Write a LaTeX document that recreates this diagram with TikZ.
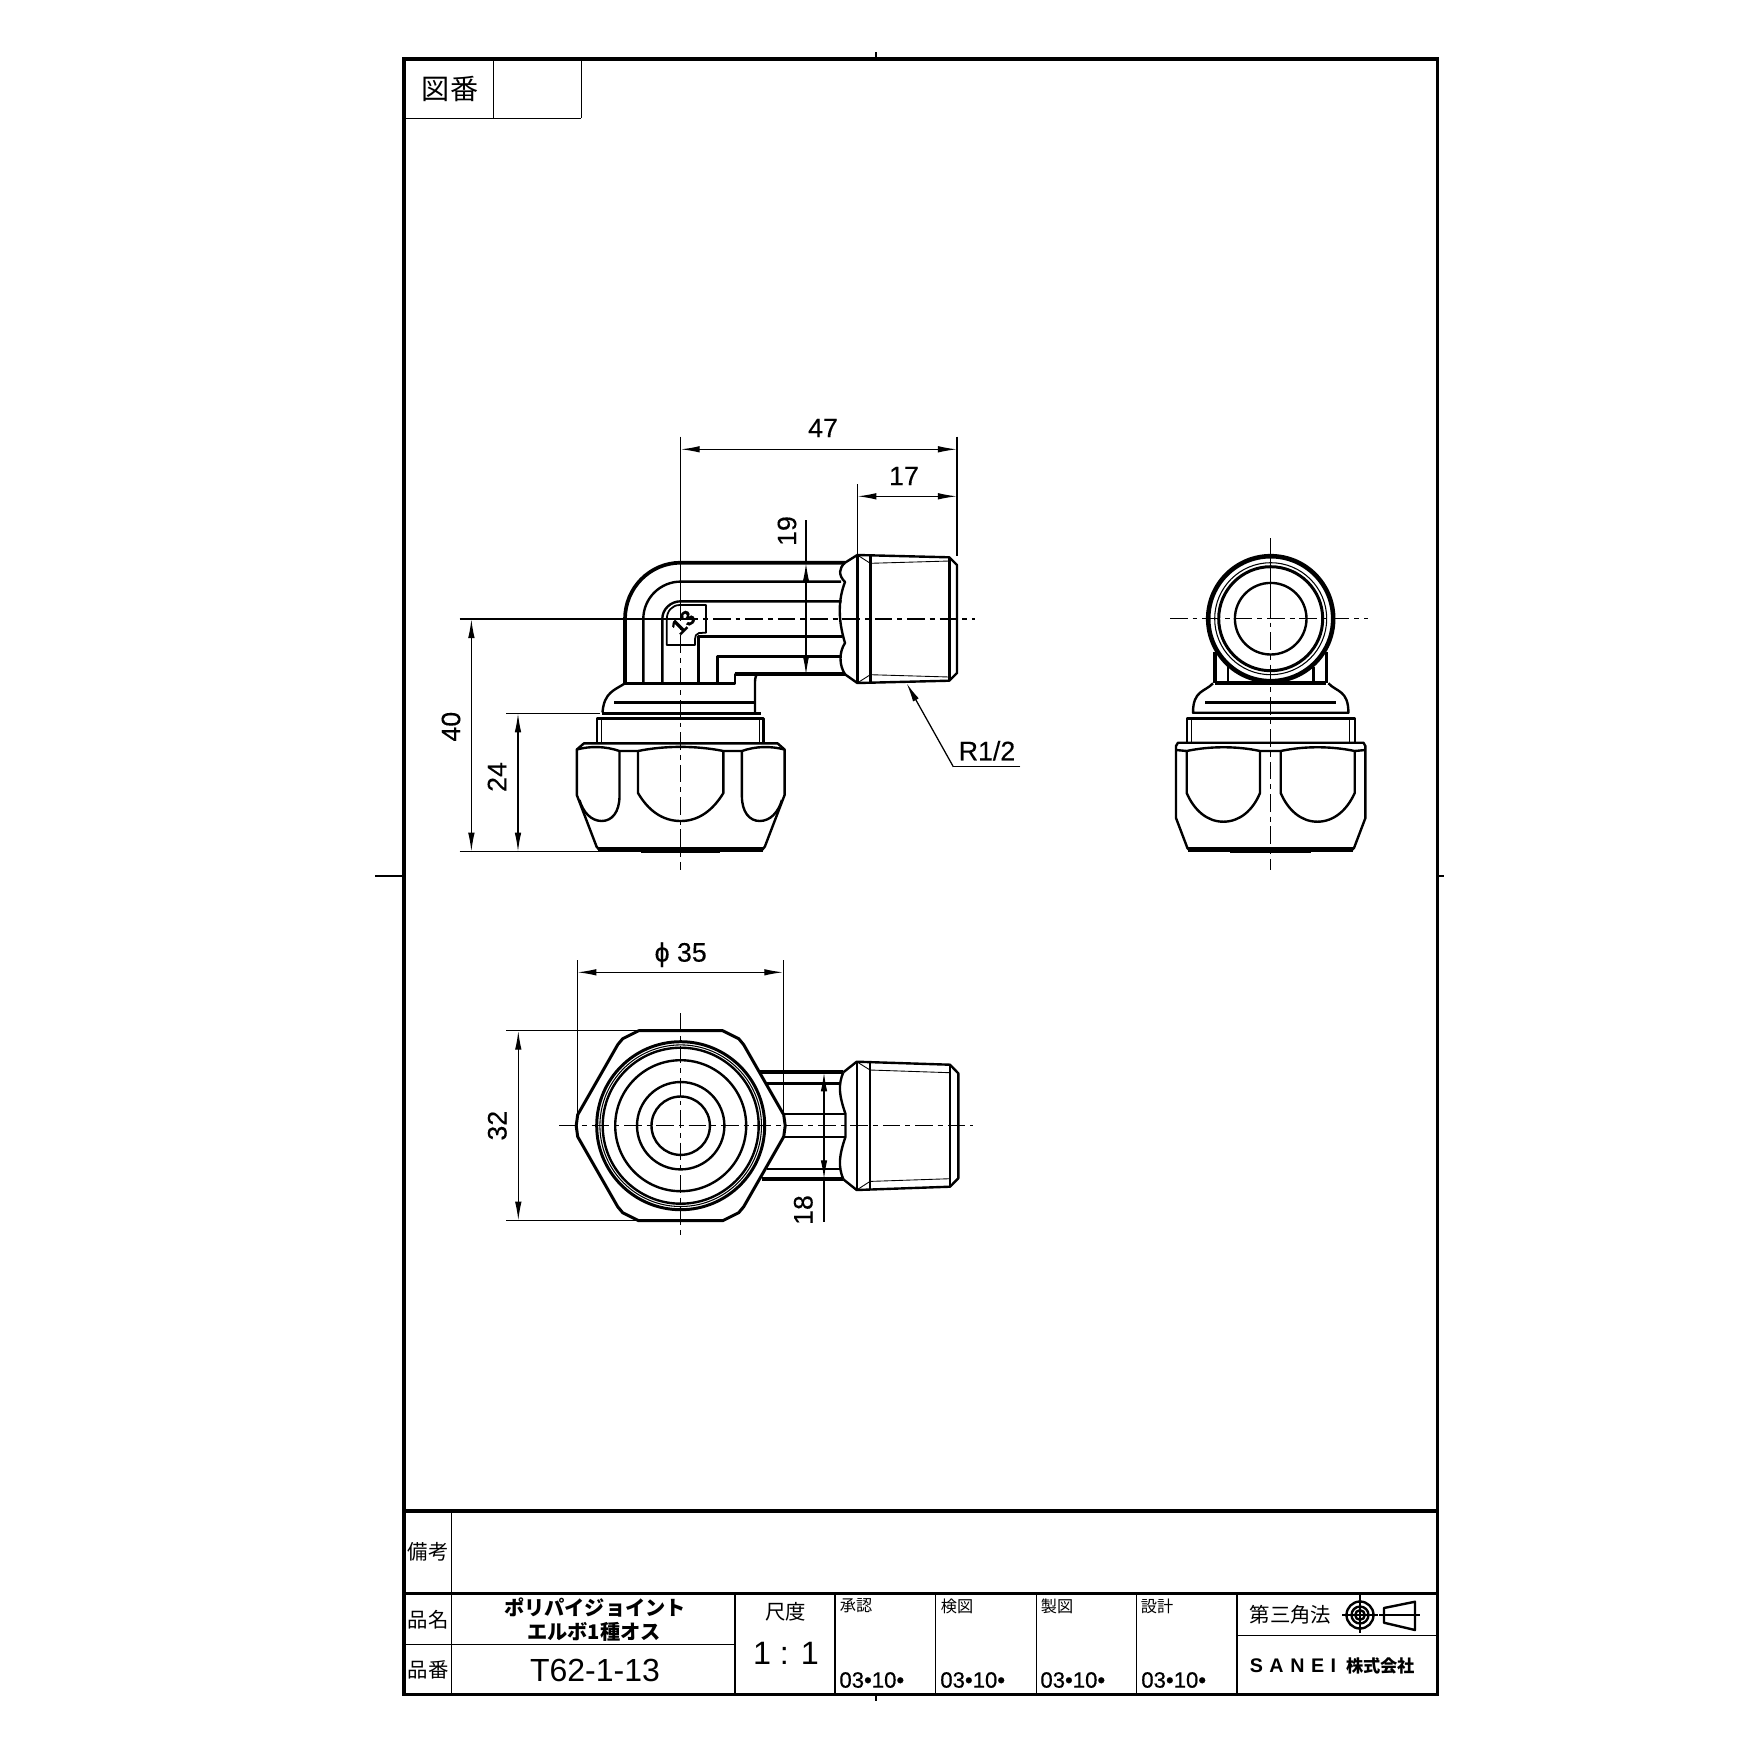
\documentclass[tikz,border=0pt]{standalone}
\usepackage{fontspec}
\setmainfont{Liberation Sans}
\newfontfamily\jpfont{Noto Sans CJK JP}
\newfontfamily\heavyfont[FakeBold=.6]{Liberation Sans}
\newfontfamily\dimfont[FakeBold=.25]{Liberation Sans}
\usetikzlibrary{arrows.meta}
\tikzset{
  framing/.style={line width=1pt,line join=miter},
  thinrule/.style={line width=.4pt},
  heavy/.style={line width=1.05pt,line join=round},
  medium/.style={line width=.68pt,line join=round},
  faint/.style={line width=.25pt},
  centre/.style={line width=.36pt,dash pattern=on 5pt off 1.4pt on 1.4pt off 1.4pt},
  dimline/.style={line width=.36pt,{Latex[length=1.9mm,width=.65mm]}-{Latex[length=1.9mm,width=.65mm]}},
  dimtip/.style={line width=.36pt,-{Latex[length=1.9mm,width=.65mm]}},
  dimtext/.style={font=\dimfont\fontsize{7.6}{9}\selectfont,inner sep=0pt},
  kanji/.style={font=\jpfont\fontsize{5.8}{7}\selectfont,inner sep=0pt},
  smallkanji/.style={font=\jpfont\fontsize{4.6}{6}\selectfont,inner sep=0pt},
  boldkanji/.style={font=\jpfont\bfseries\fontsize{5.75}{7}\selectfont,inner sep=0pt},
  datetext/.style={font=\heavyfont\fontsize{6.3}{8}\selectfont,inner sep=0pt,anchor=west}
}
\begin{document}
\begin{tikzpicture}[x=.01cm,y=-.01cm]
  \useasboundingbox (0,0) rectangle (1754,1754);
  % sheet
  \draw [framing] (404,59) rectangle (1437.5,1694.5);
  \draw [framing] (404,1511) -- (1437.5,1511);
  \draw [framing] (404,1593.5) -- (1437.5,1593.5);
  \draw [thinrule] (493.3,59) -- (493.3,118.3) (581.3,59) -- (581.3,118.3) (404,118.3) -- (581.3,118.3);
  \draw [thinrule] (876,52) -- (876,59) (876,1694.5) -- (876,1701) (375,876) -- (404,876) (1437.5,876) -- (1444,876);
  \draw [thinrule] (451.7,1511) -- (451.7,1694.5) (404,1644.3) -- (735,1644.3) (1236.8,1635.3) -- (1437.5,1635.3);
  \foreach \xa in {735,835,935.7,1036.6,1136.7,1236.8}
    \draw [thinrule] (\xa,1593.5) -- (\xa,1694.5);
  \node [kanji,font=\jpfont\fontsize{8}{9}\selectfont] (zuban) at (450,88.5) {図番};
  \node [kanji] (biko) at (428,1552) {備考};
  \node [kanji] (hinmei) at (428,1620) {品名};
  \node [kanji] (hinban) at (428,1670) {品番};
  \node [boldkanji] (name1) at (595,1607) {ポリパイジョイント};
  \node [boldkanji] (name2) at (594,1631.7) {エルボ1種オス};
  \node [inner sep=0pt,font=\fontsize{9.1}{11}\selectfont] (partno) at (595,1670) {T62-1-13};
  \node [kanji] (shakudo) at (785.8,1612) {尺度};
  \node [inner sep=0pt,font=\fontsize{9.2}{11}\selectfont] (ratio) at (786,1653) {1 : 1};
  \node [smallkanji] (shonin) at (856,1606) {承認};
  \node [smallkanji] (kenzu) at (957,1606) {検図};
  \node [smallkanji] (seizu) at (1057,1606) {製図};
  \node [smallkanji] (sekkei) at (1157,1606) {設計};
  \node [datetext] (date1) at (838.7,1680) {03•10•};
  \node [datetext] (date2) at (939.6,1680) {03•10•};
  \node [datetext] (date3) at (1039.7,1680) {03•10•};
  \node [datetext] (date4) at (1140.6,1680) {03•10•};
  \node [kanji] (third) at (1290.5,1615) {第三角法};
  \node [inner sep=0pt,font=\bfseries\fontsize{5.6}{7}\selectfont] (sanei) at (1293,1666) {S\,\,A\,\,N\,\,E\,\,I};
  \node [boldkanji,font=\jpfont\bfseries\fontsize{4.9}{6}\selectfont] (kaisha) at (1380.5,1666) {株式会社};
  % projection symbol
  \draw [medium] (1360,1615) circle (13.5) circle (8.5);
  \draw [medium] (1360,1615) circle (4.8);
  \draw [thinrule] (1342.4,1615) -- (1378,1615) (1360,1595) -- (1360,1633);
  \draw [medium] (1384,1608) -- (1415,1601.7) -- (1415,1630) -- (1384,1622.7) -- cycle;
  \draw [thinrule] (1379,1615) -- (1419.6,1615);
  % front view, elbow
  \draw [heavy] (625,683.3) -- (625,619) arc (180:270:55.7 and 56.3) -- (845,562.7);
  \draw [medium] (643.3,683.3) -- (643.3,619) arc (180:270:37.4) -- (841,581.6);
  \draw [medium] (662.3,683.3) -- (662.3,619) arc (180:270:18.4 and 17.7) -- (841.7,601.3);
  \draw [medium] (698.3,683.3) -- (698.3,636.3) -- (841.7,636.3);
  \draw [medium] (717.3,683.3) -- (717.3,656.3) -- (841,656.3);
  \draw [medium] (625,683.3) -- (735,683.3) -- (735,674.3) -- (845,674.3);
  \draw [heavy] (735,674.3) -- (845,674.3);
  \draw [medium] (845,562.7) .. controls (839,568) and (838,575) .. (845,582) .. controls (838,600) and (838,620) .. (845,643) .. controls (839,652) and (839,665) .. (845,674.3);
  % front view, threaded end
  \draw [medium] (845,562.7) -- (857.3,555) -- (949.3,557.3) -- (957,565) -- (957,673) -- (949.3,680.7) -- (857.3,683) -- (845,674.3);
  \draw [medium] (857.3,555) -- (857.3,683) (870.3,556) -- (870.3,682) (949.3,557.3) -- (949.3,680.7);
  \draw [faint] (857.3,555) -- (870.3,563.3) -- (949.3,561) (857.3,683) -- (870.3,674.7) -- (949.3,677);
  % front view, union body
  \draw [medium] (625,683.3) .. controls (615,690) and (604,692) .. (602.5,712.5);
  \draw [medium] (756.7,674.3) .. controls (755,678) and (755,680) .. (755,684) -- (755,712.5);
  \draw [medium] (602,713.3) -- (760.5,713.3) (614,702.3) -- (755.8,702.3);
  \draw [medium] (597,743.3) -- (597,718.3) -- (763.6,718.3) -- (763.6,743.3);
  \draw [faint] (601,718.3) -- (601,743.3) (759.7,718.3) -- (759.7,743.3);
  % front view, nut
  \draw [medium] (576.8,749.5) -- (584,743.3) -- (777.5,743.3) -- (784.6,749.5) -- (784.6,795) -- (764.8,846.7) -- (762,850) -- (599.5,850) -- (596.6,846.7) -- (576.8,795) -- cycle;
  \draw [line width=1.3pt] (598,849.5) -- (763,849.5);
  \draw [heavy] (641,851.5) -- (720,851.5);
  \draw [medium] (576.8,749.5) .. controls (590,746) and (605,746) .. (619.5,751) -- (638,751) .. controls (665,745.5) and (696,745.5) .. (723.4,751) -- (741.9,751) .. controls (756,746) and (771,746) .. (784.6,749.5);
  \draw [medium] (619.5,751) -- (619.5,796) .. controls (619.5,812) and (612,821) .. (601.7,821) .. controls (591,821) and (583,812) .. (579.5,800);
  \draw [medium] (638,751) -- (638,793) .. controls (648,810) and (662,821) .. (680.7,821) .. controls (699,821) and (713,810) .. (723.4,793) -- (723.4,751);
  \draw [medium] (741.9,751) -- (741.9,796) .. controls (741.9,812) and (749.4,821) .. (759.7,821) .. controls (770.4,821) and (778.4,812) .. (781.9,800);
  % stamp
  \draw [medium,line width=.5pt] (666.7,645) -- (666.7,620) .. controls (666.7,611) and (672,605) .. (680,605) -- (706,605) -- (706,632.7) -- (699,633) .. controls (696,634) and (695,636) .. (695,639) -- (695,645) -- cycle;
  \node [inner sep=0pt,rotate=45,font=\heavyfont\bfseries\fontsize{6.2}{7}\selectfont] (stamp) at (683.3,622.3) {13};
  % front view, centre lines
  \draw [thinrule] (680.7,436.7) -- (680.7,603);
  \draw [centre] (680.7,603) -- (680.7,870);
  \draw [thinrule,line width=.5pt] (459.5,619) -- (680.7,619);
  \draw [centre] (680.7,619) -- (975,619);
  % front view, dimensions
  \draw [thinrule] (957,436.7) -- (957,556) (857.3,484) -- (857.3,555);
  \draw [dimline] (680.7,449.3) -- (957,449.3);
  \node [dimtext] (d47) at (823,428) {47};
  \draw [dimline] (857.3,496.3) -- (957,496.3);
  \node [dimtext] (d17) at (904,476) {17};
  \draw [thinrule] (806,520) -- (806,562.7);
  \draw [dimtip] (806,620) -- (806,562.7);
  \draw [dimtip] (806,620) -- (806,675);
  \node [dimtext,rotate=90] (d19) at (787,531) {19};
  \draw [dimline] (471.4,619) -- (471.4,851.7);
  \node [dimtext,rotate=90] (d40) at (451,726.7) {40};
  \draw [thinrule] (459.5,851.7) -- (598,851.7) (506,713.3) -- (600,713.3);
  \draw [dimline] (518,713.3) -- (518,851.7);
  \node [dimtext,rotate=90] (d24) at (497,777) {24};
  \coordinate (threadtip) at (906.6,683.3);
  \draw [thinrule] (1020.4,766.7) -- (953.3,766.7);
  \draw [dimtip] (953.3,766.7) -- (threadtip);
  \node [dimtext] (thread) at (987,750.7) {R1/2};
  % right view
  \draw [line width=1.3pt] (1270.7,618.7) circle (62.5);
  \draw [faint,line width=.3pt] (1270.7,618.7) circle (56);
  \draw [medium,line width=.85pt] (1270.7,618.7) circle (52);
  \draw [medium] (1270.7,618.7) circle (35.8);
  \draw [heavy] (1215,652) -- (1215,683.3) (1326.4,652) -- (1326.4,683.3);
  \draw [medium] (1228,667) -- (1228,683.3) (1313.4,667) -- (1313.4,683.3);
  \draw [heavy] (1215,683.3) -- (1326.4,683.3);
  \draw [medium] (1213,683.3) .. controls (1205,692) and (1193,690) .. (1193,712.7) -- (1348.4,712.7) .. controls (1348.4,690) and (1336.4,692) .. (1328.4,683.3);
  \draw [medium] (1205,702.3) -- (1336.4,702.3);
  \draw [medium] (1186.7,742.7) -- (1186.7,718.3) -- (1354.7,718.3) -- (1354.7,742.7);
  \draw [faint] (1191.7,718.3) -- (1191.7,742.7) (1349.7,718.3) -- (1349.7,742.7);
  \draw [medium] (1176,746) -- (1178,742.7) -- (1363.4,742.7) -- (1365.4,746) -- (1365.4,818) -- (1354,848) -- (1352,850) -- (1189.4,850) -- (1187.4,848) -- (1176,818) -- cycle;
  \draw [line width=1.3pt] (1188,849.5) -- (1353.4,849.5);
  \draw [heavy] (1230,851.5) -- (1311.4,851.5);
  \draw [medium] (1176,750) -- (1186.7,751) .. controls (1210,746) and (1237,746) .. (1260,751) -- (1280.7,751) .. controls (1304,746) and (1331,746) .. (1354.7,751) -- (1365.4,750);
  \draw [medium] (1186.7,751) -- (1186.7,793) .. controls (1194,810) and (1207,821.7) .. (1223.3,821.7) .. controls (1240,821.7) and (1253,810) .. (1260,793) -- (1260,751);
  \draw [medium] (1280.7,751) -- (1280.7,793) .. controls (1288,810) and (1301,821.7) .. (1317.3,821.7) .. controls (1334,821.7) and (1347,810) .. (1354.7,793) -- (1354.7,751);
  \draw [thinrule] (1270.7,538) -- (1270.7,600);
  \draw [centre] (1270.7,600) -- (1270.7,870);
  \draw [centre] (1170,618.7) -- (1368,618.7);
  % plan view
  \draw [heavy,line width=.85pt] (638.7,1030.7) -- (722.7,1030.7) -- (738.7,1038.7) -- (743.7,1044.7) -- (783.7,1114.7) -- (785.2,1125.7) -- (783.7,1136.7) -- (743.7,1206.7) -- (738.7,1212.7) -- (722.7,1220.7) -- (638.7,1220.7) -- (622.7,1212.7) -- (617.7,1206.7) -- (577.7,1136.7) -- (576.2,1125.7) -- (577.7,1114.7) -- (617.7,1044.7) -- (622.7,1038.7) -- cycle;
  \draw [heavy,line width=.85pt] (680.7,1125.7) circle (84);
  \draw [faint,line width=.3pt] (680.7,1125.7) circle (80.8);
  \draw [medium] (680.7,1125.7) circle (78) circle (65.5);
  \draw [medium] (680.7,1125.7) circle (43.7) circle (29.2);
  \draw [heavy] (759.3,1072.3) -- (843.3,1072.3) (761.7,1179.3) -- (843.3,1179.3);
  \draw [medium] (766.7,1083.3) -- (841,1083.3) (781.7,1114) -- (845,1114) (781.7,1136.7) -- (845,1136.7) (766.7,1168.7) -- (841,1168.7);
  \draw [medium] (843.3,1072.3) .. controls (838,1085) and (839,1095) .. (845.5,1114) -- (845.5,1136.7) .. controls (839,1156) and (838,1166) .. (843.3,1179.3);
  \draw [medium] (843.3,1072.3) -- (856.7,1061.7) -- (950,1064.7) -- (958.3,1073.3) -- (958.3,1178.3) -- (950,1186.7) -- (856.7,1190) -- (843.3,1179.3);
  \draw [medium] (856.7,1061.7) -- (856.7,1190) (870,1063) -- (870,1189.3) (950,1064.7) -- (950,1186.7);
  \draw [faint] (856.7,1061.7) -- (870,1070) -- (950,1072.7) (856.7,1190) -- (870,1181.4) -- (950,1178.7);
  % plan view, centre lines
  \draw [centre] (559.3,1125.7) -- (972.7,1125.7);
  \draw [centre] (680.7,1013.3) -- (680.7,1238.3);
  % plan view, dimensions
  \draw [thinrule] (577.3,960) -- (577.3,1116.7) (783.3,960) -- (783.3,1115);
  \draw [dimline] (577.3,972.3) -- (783.3,972.3);
  \node [dimtext] (dia) at (680.7,954.7) {ϕ 35};
  \draw [thinrule] (506,1030.7) -- (638,1030.7) (506,1220.7) -- (638,1220.7);
  \draw [dimline] (518.3,1030.7) -- (518.3,1220.7);
  \node [dimtext,rotate=90] (d32) at (497.3,1125.7) {32};
  \draw [thinrule] (824,1179.3) -- (824,1221.7);
  \draw [dimtip] (824,1125) -- (824,1072.3);
  \draw [dimtip] (824,1125) -- (824,1179.3);
  \node [dimtext,rotate=90] (d18) at (803.3,1210) {18};
\end{tikzpicture}
\end{document}
